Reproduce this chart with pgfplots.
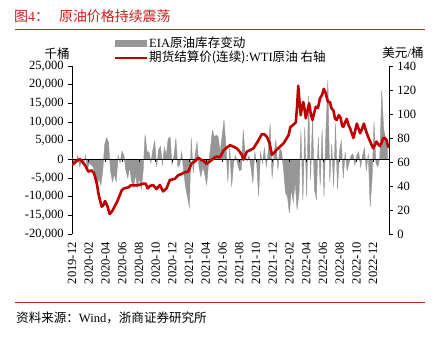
\documentclass[border=0pt]{standalone}
\usepackage{pgfplots}
\pgfplotsset{compat=1.18}
\usepackage{pgfplotstable}
\usepackage{fontspec}
\setmainfont{Liberation Serif}
\newfontfamily\cjk{Noto Sans CJK SC}
\definecolor{wtired}{RGB}{192,0,0}
\definecolor{eiagray}{RGB}{150,150,150}
\definecolor{titlered}{RGB}{200,30,30}

\pgfplotstableread{
w v
0 500
1 -1500
2 -1000
3 1000
4 -2000
5 -500
6 -1500
7 1000
8 -2500
9 -1000
10 -1500
11 -2000
12 -4000
13 -7300
14 -5000
15 -7000
16 -3000
17 4000
18 5800
19 4500
20 -3000
21 -6000
22 -4000
23 -6000
24 1000
25 -1000
26 2200
27 1000
28 -3000
29 -5000
30 -2000
31 -6000
32 -7500
33 -4000
34 -7500
35 -5000
36 -8000
37 -3000
38 6700
39 2000
40 2000
41 -1000
42 2500
43 5000
44 -2000
45 2500
46 3500
47 -1500
48 3200
49 1000
50 5500
51 6000
52 -1500
53 1000
54 5600
55 -2000
56 -1500
57 2000
58 -3000
59 -7300
60 -10000
61 -12800
62 5600
63 -3700
64 1000
65 4700
66 -2000
67 -4600
68 -2000
69 -4000
70 -6800
71 -1000
72 3000
73 7800
74 6000
75 6500
76 6000
77 2000
78 6000
79 10500
80 4000
81 -6000
82 3000
83 -7300
84 -1000
85 1000
86 -1000
87 -3000
88 -2800
89 7800
90 1500
91 -500
92 1000
93 -2000
94 -6400
95 2000
96 -1000
97 -9800
98 2000
99 -1000
100 3000
101 -2000
102 2000
103 9600
104 -5000
105 1000
106 5200
107 -2800
108 3000
109 2000
110 -3000
111 -9000
112 -10000
113 -14400
114 -8000
115 -11400
116 -6000
117 -13500
118 -9000
119 7800
120 -11000
121 8600
122 -10000
123 17000
124 -5400
125 11000
126 -8000
127 -10700
128 6000
129 -7000
130 8000
131 -10000
132 8000
133 21200
134 -6000
135 4000
136 -7300
137 9500
138 -8000
139 2000
140 5000
141 -5000
142 2000
143 -3000
144 -1000
145 1000
146 1500
147 -1500
148 1000
149 2000
150 -2000
151 1000
152 3000
153 -3000
154 1500
155 -12700
156 -5000
157 10000
158 -1000
159 -2000
160 500
161 18500
162 8000
163 5700
164 4000
}\eiadata

\pgfplotstableread{
m p
0.0 57.5
0.4 60
0.95 62.5
1.3 59.5
1.55 57.5
1.95 52
2.35 53
2.6 51
2.75 48
3.0 41
3.15 34
3.35 28
3.55 22.8
3.75 24
3.95 27.5
4.2 24
4.5 16.7
4.8 19
5.1 23
5.4 27
5.75 33
5.95 36.5
6.2 38
6.5 38.5
6.8 39
7.0 40.5
7.3 40.5
7.6 40.5
8.1 41
8.5 42
8.8 42
9.05 38
9.3 40
9.7 40.8
10.1 37.5
10.5 40.8
10.9 35.5
11.3 38
11.7 45
12.0 45.5
12.3 46
12.7 49
13.1 50
13.5 51.5
13.9 52
14.1 55.5
14.3 59
14.7 60.5
15.1 63.6
15.4 62
15.7 61
16.1 58.5
16.4 60
16.7 61.7
17.0 63.5
17.3 64.5
17.7 64
18.1 69.4
18.5 72
18.9 74
19.3 72.8
19.7 71.4
20.0 69
20.3 66
20.5 62
20.9 68.6
21.3 70
21.7 71.4
22.2 77
22.7 83.3
23.0 83
23.3 81
23.6 76
23.9 66
24.2 68
24.5 70.5
24.9 73
25.3 75.6
25.6 79
25.9 82.5
26.1 89
26.45 91
26.75 93
26.9 105
27.05 123.5
27.2 110
27.35 99
27.5 106
27.65 110
27.8 104
27.95 96.4
28.15 103
28.35 109
28.55 100
28.75 95
28.95 101
29.15 106
29.4 105
29.65 113
29.9 116
30.1 121
30.3 118
30.45 114
30.6 110
30.85 110
31.0 105
31.25 103
31.45 96
31.65 95
31.9 99
32.1 97
32.3 90
32.45 89.4
32.65 93
32.85 96
33.05 91
33.25 88
33.45 84
33.65 80
33.85 86
34.05 92
34.25 88
34.45 84
34.7 88
34.9 92
35.1 87
35.4 81
35.65 77
36.0 71.5
36.2 74
36.4 77
36.6 75
36.8 73.3
37.0 76
37.2 79.7
37.4 80
37.6 78.3
37.75 74
37.9 72
}\wtidata

\pgfplotsset{every tick label/.append style={font=\fontsize{12.6}{14}\selectfont}}

\begin{document}
\fontsize{12.6}{15}\selectfont
\begin{tikzpicture}[x=1bp,y=1bp]
\path[use as bounding box] (0,0) rectangle (439,-337);
% title and rules
\node[anchor=west, text=titlered, inner sep=0pt, font=\fontsize{14}{16}\selectfont] at (14,-16) {{\cjk 图}4{\cjk ：}\hspace{10bp}{\cjk 原油价格持续震荡}};
\draw[titlered, line width=0.8bp] (15,-29.3) -- (425,-29.3);
\draw[titlered, line width=0.8bp] (15,-302.7) -- (425,-302.7);
\node[anchor=west, inner sep=0pt] at (16,-318) {{\cjk 资料来源：}Wind{\cjk ，浙商证券研究所}};
% legend
\fill[eiagray] (115,-40) rectangle (147,-46.5);
\node[anchor=west, inner sep=0pt] at (149,-43) {EIA{\cjk 原油库存变动}};
\draw[wtired, line width=2.6bp] (115,-58) -- (147,-58);
\node[anchor=west, inner sep=0pt] at (149,-57.5) {{\cjk 期货结算价(连续)}:WTI{\cjk 原油\ 右轴}};
% axis unit labels
\node[inner sep=0pt] at (57,-54) {\cjk 千桶};
\node[inner sep=0pt] at (403,-53) {{\cjk 美元}/{\cjk 桶}};

\begin{axis}[
  at={(72bp,-234bp)}, anchor=south west,
  scale only axis, width=317bp, height=168bp,
  xmin=0, xmax=37.9, ymin=-20000, ymax=25000,
  axis x line*=bottom, axis y line*=left,
  axis line style={-},
  x axis line style={draw=none},
  y axis line style={black, line width=0.6bp},
  xtick={0,2,...,36},
  xticklabels={2019-12,2020-02,2020-04,2020-06,2020-08,2020-10,2020-12,2021-02,2021-04,2021-06,2021-08,2021-10,2021-12,2022-02,2022-04,2022-06,2022-08,2022-10,2022-12},
  xticklabel style={rotate=90, anchor=east},
  xtick style={draw=none},
  ytick={-20000,-15000,...,25000},
  scaled y ticks=false,
  ytick style={black, line width=0.6bp},
  tick align=outside, major tick length=4bp,
  /pgf/number format/1000 sep={,},
  /pgf/number format/assume math mode=true,
  clip=true,
]
\addplot[fill=eiagray, draw=eiagray, line width=0.4bp] table[x expr=\thisrow{w}*0.23, y=v] {\eiadata} \closedcycle;
\draw[black, line width=0.6bp] (axis cs:0,0) -- (axis cs:37.9,0);
\pgfplotsinvokeforeach{0,2,...,36}{\draw[black, line width=0.6bp] (axis cs:#1,0) -- ([yshift=-3bp]axis cs:#1,0);}
\end{axis}

\begin{axis}[
  at={(72bp,-234bp)}, anchor=south west,
  scale only axis, width=317bp, height=168bp,
  xmin=0, xmax=37.9, ymin=0, ymax=140,
  axis x line=none, axis y line*=right,
  axis line style={-},
  y axis line style={black, line width=0.6bp},
  ytick={0,20,...,140},
  ytick style={black, line width=0.6bp},
  tick align=outside, major tick length=4bp,
  /pgf/number format/assume math mode=true,
]
\addplot[wtired, line width=2.6bp, line join=round] table[x=m, y=p] {\wtidata};
\end{axis}
\end{tikzpicture}
\end{document}
